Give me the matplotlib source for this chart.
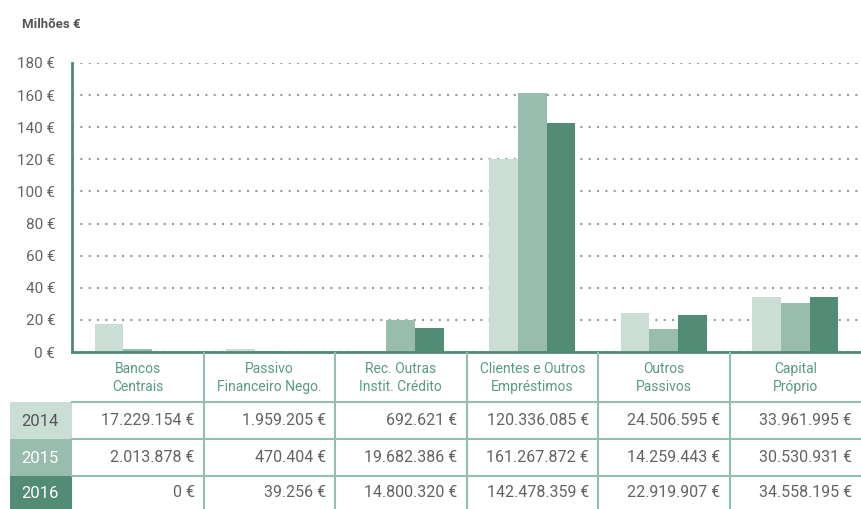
import matplotlib
matplotlib.use("Agg")
import matplotlib.pyplot as plt

plt.rcParams["font.family"] = ["Roboto", "DejaVu Sans"]

categories = [
    "Bancos\nCentrais",
    "Passivo\nFinanceiro Nego.",
    "Rec. Outras\nInstit. Crédito",
    "Clientes e Outros\nEmpréstimos",
    "Outros\nPassivos",
    "Capital\nPróprio",
]
years = ["2014", "2015", "2016"]
v2014 = [17229154, 1959205, 692621, 120336085, 24506595, 33961995]
v2015 = [2013878, 470404, 19682386, 161267872, 14259443, 30530931]
v2016 = [0, 39256, 14800320, 142478359, 22919907, 34558195]
series = [v2014, v2015, v2016]
yticks = [0, 20, 40, 60, 80, 100, 120, 140, 160, 180]

colors = ["#cbded6", "#98bcad", "#528c76"]
year_text = ["#555555", "white", "white"]
spine_green = "#4f8a73"
line_green = "#94bfae"
label_green = "#5a9a80"
grey = "#636363"

W, H = 861, 509
fig = plt.figure(figsize=(W / 100, H / 100), dpi=100)

# pixel layout
x0, x1 = 72, 861
y_zero, y_top = 352, 63
n = len(categories)
colw = (x1 - x0) / n

ax = fig.add_axes([x0 / W, 1 - y_zero / H, (x1 - x0) / W, (y_zero - y_top) / H])
bw = 0.217
for i, vals in enumerate(series):
    xs = [k + (i - 1) * bw for k in range(n)]
    ax.bar(xs, [v / 1e6 for v in vals], width=bw, color=colors[i], zorder=2)

ax.set_xlim(-0.5, n - 0.5)
ax.set_ylim(0, 180)
ax.set_yticks(yticks)
ax.set_yticklabels([f"{t} €" for t in yticks], color=grey, fontsize=11)
ax.tick_params(axis="y", length=0, pad=12)
ax.set_xticks([])
ax.grid(axis="y", color="#9a9a9a", linestyle=(0, (1, 3)), linewidth=1.5)
ax.set_axisbelow(True)
for s in ["top", "right"]:
    ax.spines[s].set_visible(False)
for s in ["left", "bottom"]:
    ax.spines[s].set_color(spine_green)
    ax.spines[s].set_linewidth(2)
    ax.spines[s].set_zorder(3)

fig.text(22 / W, 1 - 25 / H, "Milhões €", fontsize=9.5, fontweight="bold",
         color="#555555", va="center", ha="left")

# table below the chart, in pixel coordinates
tb = fig.add_axes([0, 0, 1, 1 - y_zero / H])
tb.set_xlim(0, W)
tb.set_ylim(H, y_zero)
tb.axis("off")

row_tops = [402, 439, 476]
row_h = 37
for r, yr in enumerate(years):
    h = row_h if r < 2 else H - row_tops[r]
    tb.add_patch(plt.Rectangle((10, row_tops[r]), x0 - 10, h, color=colors[r], lw=0))
    cy = row_tops[r] + h / 2
    tb.text(40, cy + 1, yr, ha="center", va="center", fontsize=12, color=year_text[r])
    tb.plot([x0, x1], [row_tops[r], row_tops[r]], color=line_green, lw=1.5)
    for c in range(n):
        val = series[r][c]
        txt = f"{val:,}".replace(",", ".") + " €"
        tb.text(x0 + (c + 1) * colw - 9, cy, txt, ha="right", va="center",
                fontsize=11.5, color=grey)

for c in range(1, n):
    xv = x0 + c * colw
    tb.plot([xv, xv], [y_zero, H], color=line_green, lw=1.5)

for c, cat in enumerate(categories):
    tb.text(x0 + (c + 0.5) * colw, 378, cat, ha="center", va="center",
            fontsize=10, color=label_green, linespacing=1.35)

fig.savefig("out.png", dpi=100)
